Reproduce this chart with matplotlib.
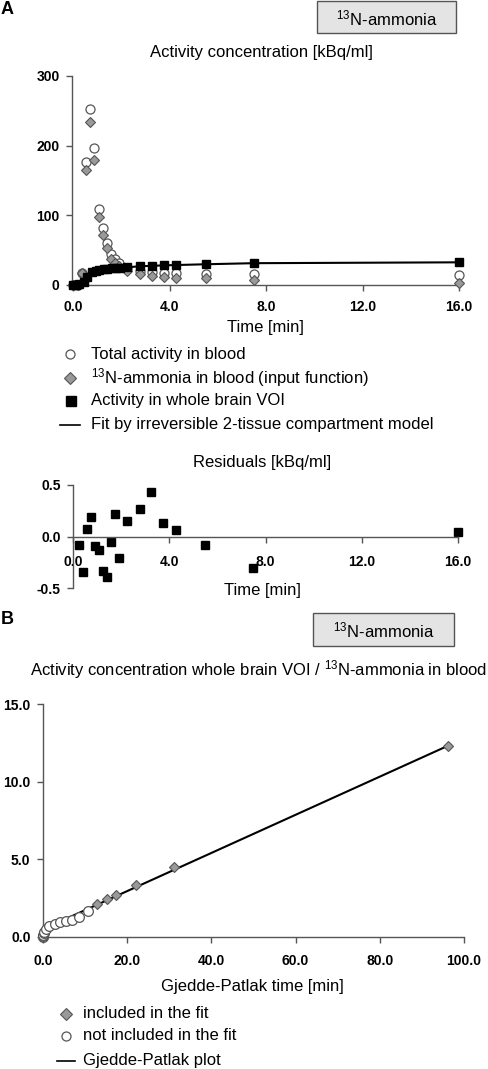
import matplotlib
matplotlib.use("Agg")
import matplotlib.pyplot as plt
from matplotlib.lines import Line2D
from matplotlib.patches import Rectangle
import numpy as np

plt.rcParams['font.family'] = ['Liberation Sans', 'DejaVu Sans']
plt.rcParams['mathtext.fontset'] = 'custom'
plt.rcParams['mathtext.rm'] = 'Liberation Sans'
plt.rcParams['mathtext.it'] = 'Liberation Sans:italic'
plt.rcParams['mathtext.bf'] = 'Liberation Sans:bold'

# ---------------- Data ----------------
# Panel A: time activity curves
blood_time = [0.0, 0.18, 0.36, 0.54, 0.70, 0.88, 1.05, 1.23, 1.40, 1.57, 1.74, 1.90,
              2.25, 2.77, 3.25, 3.75, 4.26, 5.50, 7.48, 16.0]
total_blood = [0.0, 0.5, 16.8, 176, 253, 197, 108.6, 82, 61, 45, 37, 31,
               24, 20.5, 19, 17.7, 16.7, 15.8, 15.3, 14.4]
input_function = [0.0, 0.3, 17, 165, 234, 179, 97, 72, 53, 38, 32, 27.8,
                  20.6, 15.8, 13.4, 12.0, 10.5, 9.6, 7.2, 2.4]

brain_time = [0.0, 0.10, 0.26, 0.43, 0.59, 0.76, 0.93, 1.09, 1.26, 1.42, 1.59, 1.76, 1.92,
              2.25, 2.78, 3.26, 3.75, 4.26, 5.50, 7.48, 16.0]
brain_activity = [0.0, 0.0, 1.0, 4.0, 12.0, 18.0, 20.5, 21.8, 22.6, 23.2, 23.8, 24.3, 24.7,
                  25.6, 27.2, 27.9, 28.3, 28.7, 29.7, 31.0, 32.6]
residuals = [0.0, 0.0, -0.083, -0.344, 0.076, 0.194, -0.089, -0.127, -0.338, -0.392, -0.057,
             0.22, -0.21, 0.153, 0.267, 0.43, 0.13, 0.06, -0.083, -0.306, 0.048]
fit_curve = [b - r for b, r in zip(brain_activity, residuals)]

# Panel B: Gjedde-Patlak plot
patlak_in_x = [12.8, 15.2, 17.4, 22.1, 31.0, 96.1]
patlak_in_y = [2.10, 2.42, 2.72, 3.35, 4.50, 12.30]
patlak_out_x = [0.0, 0.03, 0.08, 0.15, 0.3, 0.6, 1.4, 2.75, 4.1, 5.5, 6.8, 8.5, 10.6]
patlak_out_y = [0.0, 0.08, 0.15, 0.25, 0.35, 0.5, 0.72, 0.85, 0.97, 1.03, 1.12, 1.3, 1.68]
patlak_fit_x = [0.0, 96.1]
patlak_fit_y = [0.50, 12.30]

xticks_A = [0, 4, 8, 12, 16]
yticks_A = [0, 100, 200, 300]
yticks_R = [-0.5, 0.0, 0.5]
xticks_B = [0, 20, 40, 60, 80, 100]
yticks_B = [0, 5, 10, 15]

# ---------------- Figure ----------------
W, H = 488, 1069
fig = plt.figure(figsize=(W / 100, H / 100), dpi=100)

SPINE = '#555555'
FS = 12
TFS = 10


def px_axes(x0, y0, x1, y1):
    return fig.add_axes([x0 / W, 1 - y1 / H, (x1 - x0) / W, (y1 - y0) / H])


def style(ax):
    for s in ['top', 'right']:
        ax.spines[s].set_visible(False)
    for s in ['left', 'bottom']:
        ax.spines[s].set_color(SPINE)
        ax.spines[s].set_linewidth(1.0)
    ax.tick_params(direction='out', length=4, width=1, color=SPINE,
                   labelsize=TFS, pad=5)
    ax.patch.set_alpha(0)
    for lab in ax.get_xticklabels() + ax.get_yticklabels():
        lab.set_fontweight('bold')


circ_kw = dict(marker='o', mfc='white', mec='#555555', mew=0.9, ls='none', clip_on=False)
diam_kw = dict(marker='D', mfc='#999999', mec='#555555', mew=0.8, ls='none', clip_on=False)
sq_kw = dict(marker='s', mfc='black', mec='black', ls='none', clip_on=False)

# Panel A main
axA = px_axes(72, 76, 459, 285)
axA.set_xlim(-0.05, 16)
axA.set_ylim(0, 300)
axA.plot(blood_time, total_blood, ms=6.5, zorder=3, **circ_kw)
axA.plot(blood_time, input_function, ms=4.8, zorder=4, **diam_kw)
axA.plot(brain_time, brain_activity, ms=5.2, zorder=5, **sq_kw)
axA.plot(brain_time, fit_curve, color='black', lw=1.5, zorder=6, clip_on=False)
axA.set_xticks(xticks_A)
axA.set_xticklabels([f'{v:.1f}' for v in xticks_A])
axA.set_yticks(yticks_A)
axA.set_yticklabels([f'{v:d}' for v in yticks_A])
style(axA)
axA.tick_params(axis='x', pad=7)
axA.set_xlabel('Time [min]', fontsize=FS, labelpad=4)

# Residuals
axR = px_axes(73, 485, 458, 588)
axR.set_xlim(0, 16)
axR.set_ylim(-0.5, 0.5)
axR.plot(brain_time[2:], residuals[2:], ms=5.5, **sq_kw)
axR.spines['bottom'].set_position(('data', 0))
axR.set_xticks(xticks_A)
axR.set_xticklabels([f'{v:.1f}' for v in xticks_A])
axR.set_yticks(yticks_R)
axR.set_yticklabels([f'{v:.1f}' for v in yticks_R])
style(axR)
axR.tick_params(axis='x', pad=9)

# Panel B
axB = px_axes(43, 704, 464, 937)
axB.set_xlim(0, 100)
axB.set_ylim(0, 15)
axB.plot(patlak_fit_x, patlak_fit_y, color='black', lw=1.5, zorder=3)
axB.plot(patlak_out_x, patlak_out_y, ms=7, zorder=4, **circ_kw)
axB.plot(patlak_in_x, patlak_in_y, ms=5.5, zorder=5, **diam_kw)
axB.set_xticks(xticks_B)
axB.set_xticklabels([f'{v:.1f}' for v in xticks_B])
axB.set_yticks(yticks_B)
axB.set_yticklabels([f'{v:.1f}' for v in yticks_B])
style(axB)
axB.tick_params(axis='x', pad=8)

# ---------------- Overlay for texts, boxes, legends ----------------
ov = fig.add_axes([0, 0, 1, 1], zorder=10)
ov.set_xlim(0, W)
ov.set_ylim(H, 0)
ov.axis('off')
ov.patch.set_alpha(0)

ov.text(1, 9, 'A', fontsize=13, fontweight='bold', va='center', ha='left')
ov.text(1, 620, 'B', fontsize=13, fontweight='bold', va='center', ha='left')

ov.add_patch(Rectangle((317, 1), 139, 32, facecolor='#e4e4e4', edgecolor='#555555', lw=1))
ov.text(386.5, 18, r'$^{13}$N-ammonia', fontsize=FS, ha='center', va='center')
ov.add_patch(Rectangle((313, 613), 141, 33, facecolor='#e4e4e4', edgecolor='#555555', lw=1))
ov.text(383.5, 630, r'$^{13}$N-ammonia', fontsize=FS, ha='center', va='center')

ov.text(261, 53, 'Activity concentration [kBq/ml]', fontsize=FS, ha='center', va='center')
ov.text(262, 462, 'Residuals [kBq/ml]', fontsize=FS, ha='center', va='center')
ov.text(262, 590, 'Time [min]', fontsize=FS, ha='center', va='center')
ov.text(259, 670, r'Activity concentration whole brain VOI / $^{13}$N-ammonia in blood',
        fontsize=FS, ha='center', va='center')
ov.text(252, 986, 'Gjedde-Patlak time [min]', fontsize=FS, ha='center', va='center')

# Legend A
legA = [
    ('circ', 'Total activity in blood'),
    ('diam', r'$^{13}$N-ammonia in blood (input function)'),
    ('sq', 'Activity in whole brain VOI'),
    ('line', 'Fit by irreversible 2-tissue compartment model'),
]
ysA = [354, 378, 401, 425]
for (kind, lab), yy in zip(legA, ysA):
    if kind == 'circ':
        ov.plot([70], [yy], ms=6.5, **circ_kw)
    elif kind == 'diam':
        ov.plot([70], [yy], ms=6, **diam_kw)
    elif kind == 'sq':
        ov.plot([70.5], [yy], ms=6.5, **sq_kw)
    else:
        ov.plot([60, 80], [yy, yy], color='black', lw=1.2)
    ov.text(91, yy, lab, fontsize=FS, ha='left', va='center')

legB = [
    ('diam', 'included in the fit'),
    ('circ', 'not included in the fit'),
    ('line', 'Gjedde-Patlak plot'),
]
ysB = [1014, 1035, 1061]
for (kind, lab), yy in zip(legB, ysB):
    if kind == 'circ':
        ov.plot([66], [yy + 1], ms=6.5, **circ_kw)
    elif kind == 'diam':
        ov.plot([66], [yy], ms=6, **diam_kw)
    else:
        ov.plot([57, 75], [yy, yy], color='black', lw=1.2)
    ov.text(83, yy, lab, fontsize=FS, ha='left', va='center')

fig.savefig('out.png', dpi=100)
